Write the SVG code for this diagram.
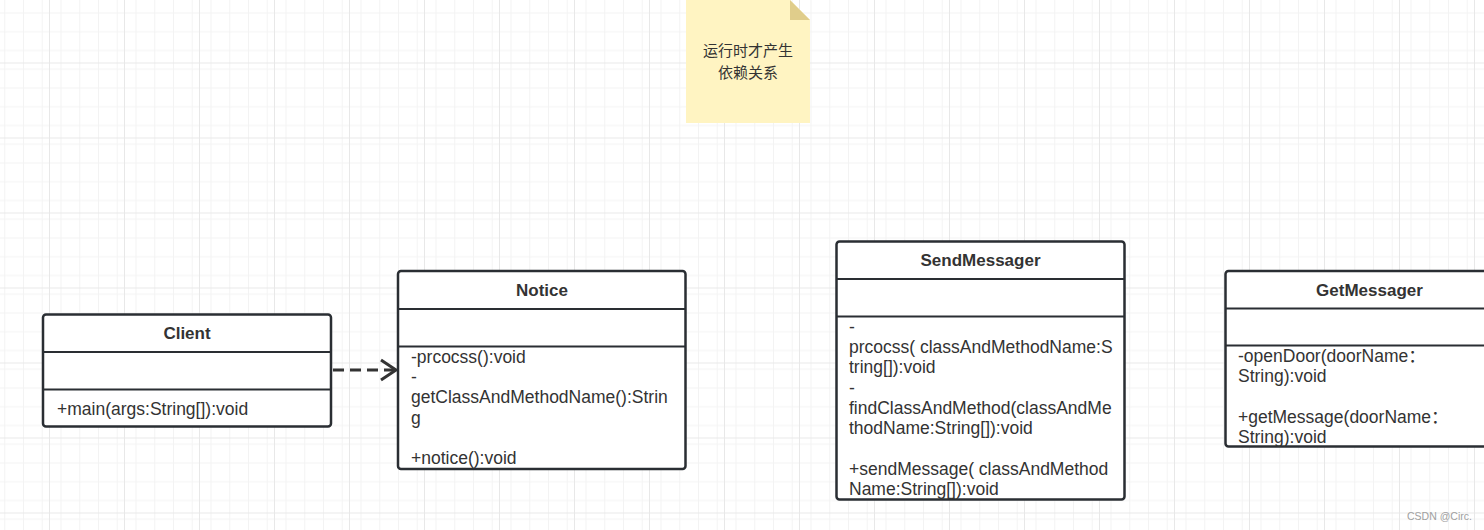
<svg xmlns="http://www.w3.org/2000/svg" width="1484" height="530" viewBox="0 0 1484 530">
<style>
.box{fill:#fff;stroke:#2a2e33;stroke-width:2.5}
.div{stroke:#2a2e33;stroke-width:2.2;fill:none}
.hd{font-family:"Liberation Sans",Arial,sans-serif;font-weight:bold;font-size:17px;fill:#333;text-anchor:middle}
.tx{font-family:"Liberation Sans","Noto Sans CJK SC",Arial,sans-serif;font-size:17.5px;fill:#333}
.note{font-family:"Noto Sans CJK SC",sans-serif;font-size:15px;fill:#333;text-anchor:middle}
.conn{stroke:#333;stroke-width:3;fill:none}
</style>
<defs>
<pattern id="minor" width="18.75" height="18.75" patternUnits="userSpaceOnUse" x="-26" y="-12.5">
<path d="M0 0.5H18.75M0.5 0V18.75" stroke="#f3f3f3" stroke-width="1" fill="none"/>
</pattern>
<pattern id="major" width="75" height="75" patternUnits="userSpaceOnUse" x="-26" y="-12.5">
<rect width="75" height="75" fill="url(#minor)"/>
<path d="M0 0.5H75M0.5 0V75" stroke="#e8e8e8" stroke-width="1" fill="none"/>
</pattern>
</defs>
<rect width="1484" height="530" fill="#fff"/>
<rect width="1484" height="530" fill="url(#major)"/>

<g id="note">
<path d="M686 0H790L810 20V123H686Z" fill="#fff4c2"/>
<path d="M790 0L810 20H790Z" fill="#e0cd8b"/>
<text class="note" x="748" y="56">运行时才产生</text>
<text class="note" x="748" y="78">依赖关系</text>
</g>

<g id="connectors">
<path class="conn" d="M333 370H395" stroke-dasharray="11 6"/>
<path class="conn" d="M381 360L396 370L381 380"/>
</g>

<g id="Client">
<rect class="box" x="43" y="314.5" width="288" height="112" rx="3"/>
<path class="div" d="M43 352H331M43 389.5H331"/>
<text class="hd" x="187" y="339">Client</text>
<text class="tx" x="57" y="414.5">+main(args:String[]):void</text>
</g>

<g id="Notice">
<rect class="box" x="398" y="271" width="287.5" height="198" rx="3"/>
<path class="div" d="M398 309H685.5M398 346.5H685.5"/>
<text class="hd" x="542" y="296">Notice</text>
<text class="tx" x="411" y="362.5">-prcocss():void</text>
<text class="tx" x="411" y="382.8">-</text>
<text class="tx" x="411" y="403.1">getClassAndMethodName():Strin</text>
<text class="tx" x="411" y="423.5">g</text>
<text class="tx" x="411" y="464">+notice():void</text>
</g>

<g id="SendMessager">
<rect class="box" x="836.5" y="241.5" width="288" height="258" rx="3"/>
<path class="div" d="M836.5 279H1124.5M836.5 316.5H1124.5"/>
<text class="hd" x="980.5" y="266">SendMessager</text>
<text class="tx" x="849" y="332.5">-</text>
<text class="tx" x="849" y="352.8">prcocss( classAndMethodName:S</text>
<text class="tx" x="849" y="373.2">tring[]):void</text>
<text class="tx" x="849" y="393.5">-</text>
<text class="tx" x="849" y="413.8">findClassAndMethod(classAndMe</text>
<text class="tx" x="849" y="434.2">thodName:String[]):void</text>
<text class="tx" x="849" y="474.8">+sendMessage( classAndMethod</text>
<text class="tx" x="849" y="495.2">Name:String[]):void</text>
</g>

<g id="GetMessager">
<rect class="box" x="1225.5" y="271" width="288" height="175.5" rx="3"/>
<path class="div" d="M1225.5 308.5H1513.5M1225.5 345.5H1513.5"/>
<text class="hd" x="1369.5" y="296">GetMessager</text>
<text class="tx" x="1238" y="362">-openDoor(doorName：</text>
<text class="tx" x="1238" y="382.3">String):void</text>
<text class="tx" x="1238" y="422.9">+getMessage(doorName：</text>
<text class="tx" x="1238" y="443.2">String):void</text>
</g>

<text x="1407" y="520" font-family="Liberation Sans,Arial,sans-serif" font-size="10.5" fill="#a0a0a0">CSDN @Circ.</text>
</svg>
